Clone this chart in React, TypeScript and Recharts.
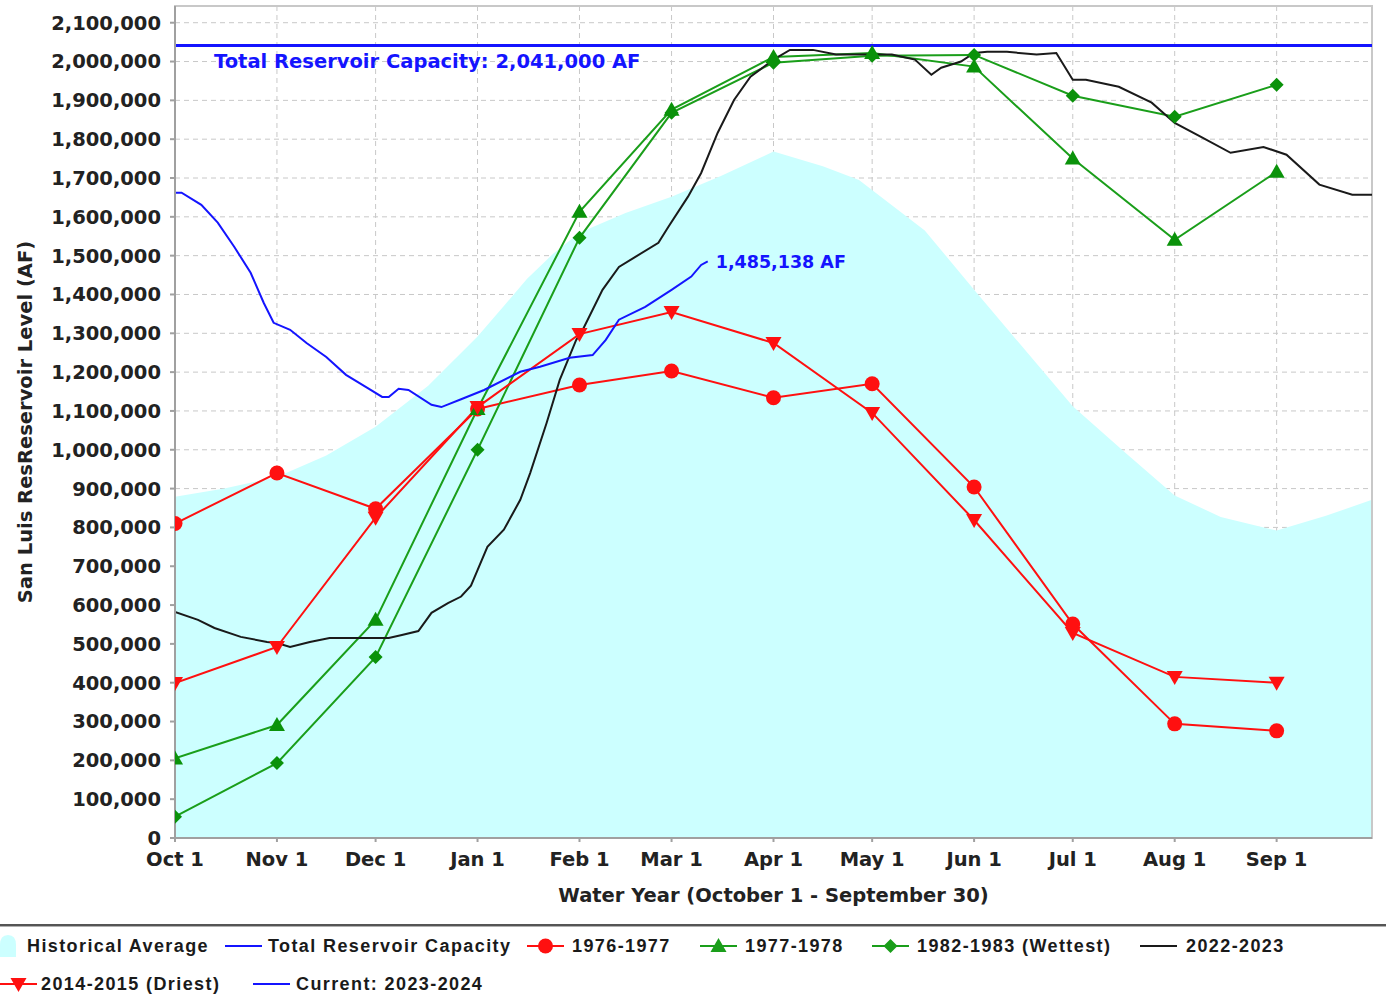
import {
  Area,
  CartesianGrid,
  ComposedChart,
  Line,
  ReferenceArea,
  ReferenceLine,
  XAxis,
  YAxis,
} from 'recharts';

// day offsets from Oct 1 (water year, non-leap)
const MONTH_DAYS = [0, 31, 61, 92, 123, 151, 182, 212, 243, 273, 304, 335];
const MONTH_LABELS = ['Oct 1', 'Nov 1', 'Dec 1', 'Jan 1', 'Feb 1', 'Mar 1', 'Apr 1', 'May 1', 'Jun 1', 'Jul 1', 'Aug 1', 'Sep 1'];
const Y_TICKS = [
  0, 100000, 200000, 300000, 400000, 500000, 600000, 700000, 800000, 900000, 1000000,
  1100000, 1200000, 1300000, 1400000, 1500000, 1600000, 1700000, 1800000, 1900000, 2000000, 2100000,
];
const CAPACITY = 2041000;

const HIST_DAYS = [0, 15, 31, 46, 61, 77, 92, 100, 107, 115, 123, 137, 151, 166, 182, 197, 208, 228, 243, 258, 273, 289, 304, 318, 335, 350, 364];
const HIST_AF = [
  879000, 900000, 930000, 985000, 1059000, 1165000, 1292000, 1370000, 1440000, 1505000, 1559000, 1610000, 1652000, 1705000,
  1768000, 1730000, 1695000, 1565000, 1412000, 1262000, 1112000, 992000, 882000, 827000, 792000, 830000, 871000,
];

const WY1976 = [810000, 940000, 848000, 1105000, 1167000, 1203000, 1134000, 1170000, 904000, 551000, 294000, 276000];
const WY1977 = [205000, 291000, 562000, 1105000, 1613000, 1876000, 2012000, 2022000, 1987000, 1750000, 1541000, 1716000];
const WY1982 = [55000, 193000, 466000, 1000000, 1546000, 1868000, 1997000, 2015000, 2017000, 1912000, 1858000, 1940000];
const WY2014 = [399000, 492000, 825000, 1110000, 1298000, 1355000, 1275000, 1095000, 819000, 528000, 415000, 400000];

const WY2022_DAYS = [
  0, 7, 12, 20, 28, 31, 35, 41, 47, 53, 65, 69, 74, 78, 83, 87, 90, 92, 95, 100, 105, 108, 113, 117, 122, 124, 130, 135,
  140, 147, 150, 156, 160, 165, 170, 175, 182, 187, 194, 201, 208, 218, 225, 230, 233, 239, 243, 247, 253, 262, 268, 273,
  277, 287, 297, 304, 312, 321, 331, 338, 348, 358, 364,
];
const WY2022_AF = [
  582000, 562000, 541000, 518000, 505000, 502000, 492000, 505000, 515000, 515000, 515000, 523000, 533000, 580000, 605000,
  622000, 650000, 690000, 750000, 794000, 871000, 940000, 1069000, 1180000, 1283000, 1309000, 1412000, 1471000, 1497000,
  1533000, 1574000, 1652000, 1713000, 1816000, 1901000, 1961000, 2005000, 2030000, 2030000, 2018000, 2018000, 2018000,
  2005000, 1966000, 1984000, 2000000, 2022000, 2025000, 2025000, 2018000, 2022000, 1953000, 1953000, 1935000, 1894000,
  1842000, 1806000, 1765000, 1780000, 1760000, 1683000, 1657000, 1657000,
];

const CURRENT_DAYS = [0, 2, 8, 13, 18, 23, 27, 30, 35, 40, 46, 52, 58, 63, 65, 68, 71, 78, 81, 87, 94, 105, 111, 120, 127, 131, 135, 143, 151, 157, 160, 162];
const CURRENT_AF = [
  1662000, 1662000, 1631000, 1585000, 1523000, 1456000, 1378000, 1327000, 1309000, 1275000, 1239000, 1193000, 1162000,
  1136000, 1136000, 1157000, 1154000, 1116000, 1110000, 1130000, 1154000, 1201000, 1214000, 1237000, 1244000, 1283000,
  1335000, 1368000, 1412000, 1446000, 1476000, 1485138,
];

const zip = (days: number[], values: number[]) => days.map((day, i) => ({ day, af: values[i] }));

const histData = zip(HIST_DAYS, HIST_AF);
const data1976 = zip(MONTH_DAYS, WY1976);
const data1977 = zip(MONTH_DAYS, WY1977);
const data1982 = zip(MONTH_DAYS, WY1982);
const data2014 = zip(MONTH_DAYS, WY2014);
const data2022 = zip(WY2022_DAYS, WY2022_AF);
const dataCurrent = zip(CURRENT_DAYS, CURRENT_AF);

const RED = '#ff1010';
const GREEN = '#1a9e1a';
const GREEN_MARK = '#0a920a';
const BLUE = '#1414ff';
const AXIS_FONT = 'DejaVu Sans, Verdana, sans-serif';
const LEGEND_FONT = 'Liberation Sans, Arial, sans-serif';

const fmt = (v: number) => v.toLocaleString('en-US');

type Shape = 'circle' | 'up' | 'down' | 'diamond';

function marker(shape: Shape, cx: number, cy: number, color: string, key?: string) {
  if (shape === 'circle') return <circle key={key} cx={cx} cy={cy} r={7.5} fill={color} />;
  let pts = '';
  if (shape === 'up') pts = `${cx},${cy - 8} ${cx + 8},${cy + 6} ${cx - 8},${cy + 6}`;
  if (shape === 'down') pts = `${cx - 8},${cy - 6} ${cx + 8},${cy - 6} ${cx},${cy + 8}`;
  if (shape === 'diamond') pts = `${cx},${cy - 7} ${cx + 7},${cy} ${cx},${cy + 7} ${cx - 7},${cy}`;
  return <polygon key={key} points={pts} fill={color} />;
}

const dotFor = (shape: Shape, color: string) => (p: any) => marker(shape, p.cx, p.cy, color, `d-${shape}-${p.index}`);

const lastCurrent = CURRENT_AF[CURRENT_AF.length - 1];

function CurrentLabel(p: any) {
  if (p.index !== CURRENT_AF.length - 1 && p.value !== lastCurrent) return null;
  return (
    <text x={p.x + 8} y={p.y} dy="0.36em" fill={BLUE} fontFamily={AXIS_FONT} fontWeight="bold" fontSize={17.5}>
      {fmt(lastCurrent)} AF
    </text>
  );
}

function CapacityLabel(p: any) {
  const vb = p.viewBox;
  return (
    <text x={vb.x + 39} y={vb.y + 22} fill={BLUE} fontFamily={AXIS_FONT} fontWeight="bold" fontSize={19.5}>
      Total Reservoir Capacity: {fmt(CAPACITY)} AF
    </text>
  );
}

function YTitle(p: any) {
  const vb = p.viewBox;
  const cx = 25;
  const cy = vb.y + vb.height / 2;
  return (
    <text
      x={cx}
      y={cy}
      transform={`rotate(-90, ${cx}, ${cy})`}
      textAnchor="middle"
      dy="0.36em"
      fill="#222"
      fontFamily={AXIS_FONT}
      fontWeight="bold"
      fontSize={19.5}
    >
      San Luis ResReservoir Level (AF)
    </text>
  );
}

type LegendIcon = 'area' | 'line' | Shape;

const LEGEND_ITEMS: { label: string; color: string; icon: LegendIcon; row: number; x: number; tx: number }[] = [
  { label: 'Historical Average', color: '#ccffff', icon: 'area', row: 0, x: -2, tx: 27 },
  { label: 'Total Reservoir Capacity', color: BLUE, icon: 'line', row: 0, x: 225, tx: 268 },
  { label: '1976-1977', color: RED, icon: 'circle', row: 0, x: 527, tx: 572 },
  { label: '1977-1978', color: GREEN, icon: 'up', row: 0, x: 700, tx: 745 },
  { label: '1982-1983 (Wettest)', color: GREEN, icon: 'diamond', row: 0, x: 872, tx: 917 },
  { label: '2022-2023', color: '#1a1a1a', icon: 'line', row: 0, x: 1140, tx: 1186 },
  { label: '2014-2015 (Driest)', color: RED, icon: 'down', row: 1, x: 0, tx: 41 },
  { label: 'Current: 2023-2024', color: BLUE, icon: 'line', row: 1, x: 253, tx: 296 },
];

function LegendGlyph({ icon, color }: { icon: LegendIcon; color: string }) {
  if (icon === 'area') {
    return (
      <svg width={20} height={24}>
        <path d="M2,24 L2,12 Q2,2 10,2 Q18,2 18,12 L18,24 Z" fill={color} />
      </svg>
    );
  }
  return (
    <svg width={37} height={20}>
      <line x1={0} y1={10} x2={37} y2={10} stroke={color} strokeWidth={2} />
      {icon !== 'line' && marker(icon, 18.5, 10, color)}
    </svg>
  );
}

export default function App() {
  return (
    <div style={{ position: 'absolute', left: 0, top: 0, width: 1386, height: 996, background: '#fff', overflow: 'hidden' }}>
      <ComposedChart width={1386} height={910} margin={{ top: 6, right: 14, bottom: 0, left: 0 }}>
        <CartesianGrid stroke="#c8c8c8" strokeDasharray="5 4" />
        <XAxis
          type="number"
          dataKey="day"
          domain={[0, 364]}
          ticks={MONTH_DAYS}
          interval={0}
          allowDataOverflow
          tickFormatter={(d: number) => MONTH_LABELS[MONTH_DAYS.indexOf(d)]}
          height={72}
          stroke="#a0a0a0"
          strokeWidth={2}
          tickSize={4}
          tickMargin={10}
          tick={{ fontFamily: AXIS_FONT, fontWeight: 'bold', fontSize: 19.5, fill: '#222' }}
          label={{
            value: 'Water Year (October 1 - September 30)',
            position: 'insideBottom',
            offset: 8,
            style: { fontFamily: AXIS_FONT, fontWeight: 'bold', fontSize: 19.5, fill: '#222' },
          }}
        />
        <YAxis
          type="number"
          domain={[0, 2143050]}
          ticks={Y_TICKS}
          interval={0}
          width={175}
          tickFormatter={fmt}
          stroke="#a0a0a0"
          strokeWidth={2}
          tickSize={5}
          tickMargin={9}
          tick={{ fontFamily: AXIS_FONT, fontWeight: 'bold', fontSize: 19.5, fill: '#222' }}
          label={YTitle}
        />
        <Area
          data={histData}
          dataKey="af"
          type="linear"
          stroke="none"
          fill="#ccffff"
          fillOpacity={1}
          isAnimationActive={false}
        />
        <ReferenceArea x1={0} x2={364} y1={0} y2={2143050} fill="none" stroke="#c8c8c8" strokeWidth={2} />
        <ReferenceLine y={CAPACITY} stroke={BLUE} strokeWidth={3} label={CapacityLabel} />
        <Line
          data={data1976}
          dataKey="af"
          type="linear"
          stroke={RED}
          strokeWidth={2}
          dot={dotFor('circle', RED)}
          isAnimationActive={false}
        />
        <Line
          data={data1977}
          dataKey="af"
          type="linear"
          stroke={GREEN}
          strokeWidth={2}
          dot={dotFor('up', GREEN_MARK)}
          isAnimationActive={false}
        />
        <Line
          data={data1982}
          dataKey="af"
          type="linear"
          stroke={GREEN}
          strokeWidth={2}
          dot={dotFor('diamond', GREEN_MARK)}
          isAnimationActive={false}
        />
        <Line
          data={data2022}
          dataKey="af"
          type="linear"
          stroke="#1a1a1a"
          strokeWidth={2}
          dot={false}
          isAnimationActive={false}
        />
        <Line
          data={data2014}
          dataKey="af"
          type="linear"
          stroke={RED}
          strokeWidth={2}
          dot={dotFor('down', RED)}
          isAnimationActive={false}
        />
        <Line
          data={dataCurrent}
          dataKey="af"
          type="linear"
          stroke={BLUE}
          strokeWidth={2}
          dot={false}
          label={CurrentLabel}
          isAnimationActive={false}
        />
      </ComposedChart>

      <div style={{ position: 'absolute', left: 0, top: 924, width: 1386, height: 2, background: '#555' }} />
      <div style={{ position: 'absolute', left: 0, top: 926, width: 1386, height: 1, background: '#b0b0b0' }} />

      {LEGEND_ITEMS.map((it) => {
        const cy = it.row === 0 ? 946 : 984;
        return (
          <div key={it.label}>
            <div style={{ position: 'absolute', left: it.x, top: cy - (it.icon === 'area' ? 13 : 10), lineHeight: 0 }}>
              <LegendGlyph icon={it.icon} color={it.color} />
            </div>
            <div
              style={{
                position: 'absolute',
                left: it.tx,
                top: cy - 12,
                height: 24,
                lineHeight: '24px',
                fontFamily: LEGEND_FONT,
                fontWeight: 'bold',
                fontSize: 18,
                letterSpacing: 1.4,
                color: '#1a1a1a',
                whiteSpace: 'nowrap',
              }}
            >
              {it.label}
            </div>
          </div>
        );
      })}
    </div>
  );
}
